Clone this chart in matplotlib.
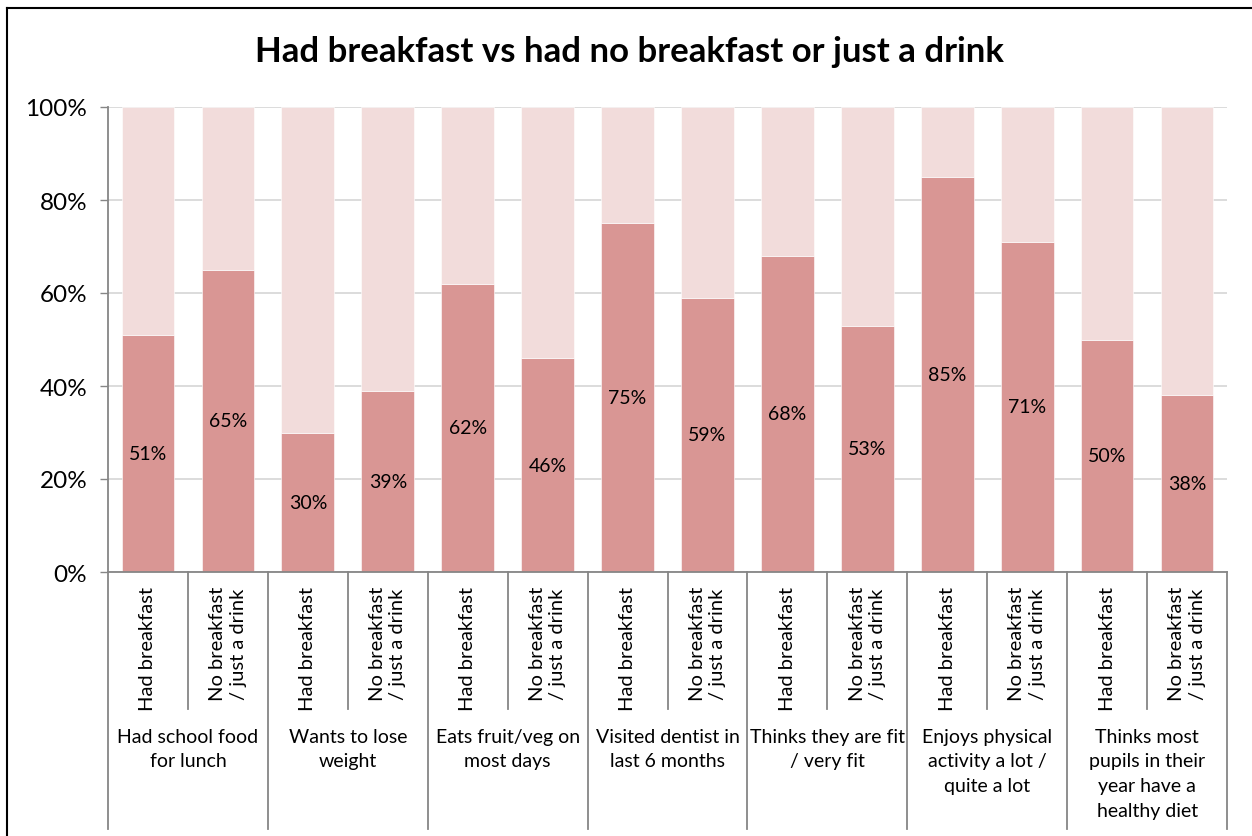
import matplotlib
matplotlib.use("Agg")
import matplotlib.pyplot as plt
from matplotlib.lines import Line2D
import numpy as np

plt.rcParams['font.family'] = ['Lato', 'DejaVu Sans']

# Data
groups = [
    "Had school food\nfor lunch",
    "Wants to lose\nweight",
    "Eats fruit/veg on\nmost days",
    "Visited dentist in\nlast 6 months",
    "Thinks they are fit\n/ very fit",
    "Enjoys physical\nactivity a lot /\nquite a lot",
    "Thinks most\npupils in their\nyear have a\nhealthy diet",
]
sub_labels = ["Had breakfast", "No breakfast\n/ just a drink"]
yes_pct = [51, 65, 30, 39, 62, 46, 75, 59, 68, 53, 85, 71, 50, 38]
y_ticks = [0, 20, 40, 60, 80, 100]

dark = "#D99694"
light = "#F2DCDB"
axis_grey = "#868686"

fig = plt.figure(figsize=(12.52, 8.37), dpi=100)
ax = fig.add_axes([108 / 1252, 1 - 573 / 837, (1227 - 108) / 1252, 465 / 837])

n = len(yes_pct)
x = np.arange(n)
yes = np.array(yes_pct)
ax.bar(x, yes, width=0.66, color=dark, edgecolor="white", linewidth=0.4, zorder=2)
ax.bar(x, 100 - yes, bottom=yes, width=0.66, color=light, edgecolor="white", linewidth=0.4, zorder=2)

for xi, v in zip(x, yes):
    ax.text(xi, v / 2, f"{v}%", ha="center", va="center", fontsize=14, color="black", zorder=3)

ax.set_xlim(-0.5, n - 0.5)
ax.set_ylim(0, 100)
ax.set_yticks(y_ticks)
ax.set_yticklabels([f"{t}%" for t in y_ticks], fontsize=17.5)
ax.yaxis.grid(True, color="#D9D9D9", linewidth=1.3, zorder=0)
ax.set_axisbelow(True)
ax.tick_params(axis="y", direction="out", length=6, width=1, color=axis_grey, pad=9)
ax.set_xticks([])

for s in ["top", "right"]:
    ax.spines[s].set_visible(False)
ax.spines["bottom"].set_color(axis_grey)
ax.spines["bottom"].set_linewidth(1.3)
ax.spines["left"].set_visible(False)

trans = ax.get_xaxis_transform()
# left axis line extends down through the category area
ax.add_line(Line2D([-0.5, -0.5], [1, -0.553], transform=trans, color=axis_grey, lw=1.3, clip_on=False))
for i in range(1, n + 1):
    bx = i - 0.5
    low = -0.553 if i % 2 == 0 else -0.295
    ax.add_line(Line2D([bx, bx], [0, low], transform=trans, color=axis_grey, lw=1.3, clip_on=False))

for i in range(n):
    ax.text(i, -0.03, sub_labels[i % 2], transform=trans, rotation=90, ha="center", va="top",
            fontsize=14.5, linespacing=1.25, clip_on=False)

for g, name in enumerate(groups):
    ax.text(2 * g + 0.5, -0.335, name, transform=trans, ha="center", va="top",
            fontsize=14, linespacing=1.55, clip_on=False)

fig.text(0.503, 0.938, "Had breakfast vs had no breakfast or just a drink", ha="center", va="center",
         fontsize=25, fontweight="bold")

# chart border (cropped on right/bottom)
fig.add_artist(Line2D([7 / 1252, 7 / 1252], [0, 1 - 9 / 837], transform=fig.transFigure, color="black", lw=1.5))
fig.add_artist(Line2D([7 / 1252, 1], [1 - 9 / 837, 1 - 9 / 837], transform=fig.transFigure, color="black", lw=1.5))

fig.savefig("out.png", dpi=100)
